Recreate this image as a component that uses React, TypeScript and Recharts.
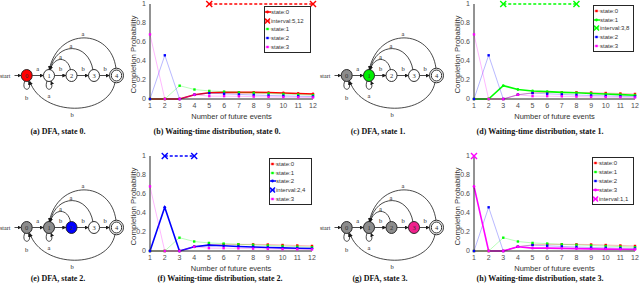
import React from 'react';
import { LineChart, Line, XAxis, YAxis } from 'recharts';

// ---------- data ----------
const steps = [1, 2, 3, 4, 5, 6, 7, 8, 9, 10, 11, 12];
const state0 = [0, 0, 0, 0.045, 0.065, 0.07, 0.07, 0.07, 0.068, 0.063, 0.058, 0.053];
const state1 = [0, 0, 0.14, 0.1, 0.085, 0.078, 0.07, 0.065, 0.058, 0.052, 0.046, 0.04];
const state2 = [0, 0.46, 0, 0.045, 0.062, 0.055, 0.048, 0.042, 0.037, 0.033, 0.029, 0.026];
const state3 = [0.68, 0, 0, 0.045, 0.03, 0.03, 0.028, 0.025, 0.022, 0.02, 0.018, 0.016];
const stateNames = ['state:0', 'state:1', 'state:2', 'state:3'];
const intervalStart = [5, 3, 2, 1];
const intervalEnd = [12, 8, 4, 1];
const yTicks = [0, 0.2, 0.4, 0.6, 0.8, 1];
const xTicks = steps;
const dfaCaptions = ['(a) DFA, state 0.', '(c) DFA, state 1.', '(e) DFA, state 2.', '(g) DFA, state 3.'];
const wtCaptions = [
  '(b) Waiting-time distribution, state 0.',
  '(d) Waiting-time distribution, state 1.',
  '(f) Waiting-time distribution, state 2.',
  '(h) Waiting-time distribution, state 3.',
];
const nodeLabels = ['0', '1', '2', '3', '4'];

// ---------- styles ----------
const colors = ['#ff0000', '#00ff00', '#0000ff', '#ff00ff'];
const dfaHighlight = ['#ff0000', '#00ee00', '#0000ff', '#f0208c'];
const GRAY = '#8c8c8c';
const SANS = '"Liberation Sans", Arial, sans-serif';
const SERIF = '"Liberation Serif", "Times New Roman", serif';

const layouts = [
  { left: 118, top: 0, width: 200, height: 122, margin: { top: 4, right: 5, left: 0, bottom: 0 }, yW: 32,
    legend: { left: 264, top: 6, width: 47, height: 47 }, dx: 0, dy: 0, capY: 134, capA: 58, capB: 217 },
  { left: 440, top: 0, width: 200, height: 122, margin: { top: 4, right: 5, left: 0, bottom: 0 }, yW: 34,
    legend: { left: 593, top: 5, width: 41, height: 47 }, dx: 320, dy: 0, capY: 134, capA: 378, capB: 540 },
  { left: 118, top: 152, width: 198, height: 122, margin: { top: 4, right: 4, left: 0, bottom: 0 }, yW: 32,
    legend: { left: 269, top: 158, width: 43, height: 47 }, dx: 0, dy: 152, capY: 281, capA: 58, capB: 220 },
  { left: 440, top: 152, width: 200, height: 122, margin: { top: 4, right: 5, left: 0, bottom: 0 }, yW: 34,
    legend: { left: 592, top: 157, width: 42, height: 48 }, dx: 320, dy: 152, capY: 281, capA: 380, capB: 540 },
];

function buildRows(k: number) {
  return steps.map((x, i) => ({
    x,
    s0: state0[i],
    s1: state1[i],
    s2: state2[i],
    s3: state3[i],
    iv: x >= intervalStart[k] && x <= intervalEnd[k] ? 1 : null,
  }));
}

const squareDot = (color: string, tag: string) => (p: any) => {
  if (p.cx == null || p.cy == null || p.value == null) return <g key={`${tag}${p.index}`} />;
  return <rect key={`${tag}${p.index}`} x={p.cx - 1.2} y={p.cy - 1.2} width={2.4} height={2.4} fill={color} />;
};
const roundDot = (color: string, tag: string) => (p: any) => {
  if (p.cx == null || p.cy == null || p.value == null) return <g key={`${tag}${p.index}`} />;
  return <circle key={`${tag}${p.index}`} cx={p.cx} cy={p.cy} r={1.4} fill={color} />;
};
const crossDot = (color: string, a: number, b: number, tag: string) => (p: any) => {
  const xv = p.payload ? p.payload.x : null;
  if (p.cx == null || p.cy == null || p.value == null || (xv !== a && xv !== b)) return <g key={`${tag}${p.index}`} />;
  const s = 3;
  return (
    <g key={`${tag}${p.index}`}>
      <line x1={p.cx - s} y1={p.cy - s} x2={p.cx + s} y2={p.cy + s} stroke={color} strokeWidth={1.4} />
      <line x1={p.cx - s} y1={p.cy + s} x2={p.cx + s} y2={p.cy - s} stroke={color} strokeWidth={1.4} />
    </g>
  );
};

function LegendBox({ k }: { k: number }) {
  const L = layouts[k].legend;
  const entries: { label: string; kind: string; color: string }[] = [];
  for (let j = 0; j < 4; j++) {
    entries.push({ label: stateNames[j], kind: j === k ? 'hi' : 'fade', color: colors[j] });
    if (j === k) entries.push({ label: `interval:${intervalStart[k]},${intervalEnd[k]}`, kind: 'iv', color: colors[j] });
  }
  return (
    <div style={{ position: 'absolute', left: L.left, top: L.top, width: L.width, height: L.height, border: '1.5px solid #262626',
      boxSizing: 'border-box', background: '#fff', fontFamily: SANS, fontSize: 6, color: '#333', display: 'flex',
      flexDirection: 'column', justifyContent: 'space-evenly' }}>
      {entries.map((e, i) => (
        <div key={i} style={{ display: 'flex', alignItems: 'center', height: 8, lineHeight: '8px', whiteSpace: 'nowrap' }}>
          <svg width={6} height={8} style={{ display: 'block', flex: 'none' }}>
            {e.kind === 'fade' && (
              <g>
                <line x1={0} y1={4} x2={6} y2={4} stroke={e.color} strokeOpacity={0.3} strokeWidth={1} />
                <rect x={1.3} y={2.8} width={2.4} height={2.4} fill={e.color} />
              </g>
            )}
            {e.kind === 'hi' && (
              <g>
                <line x1={0} y1={4} x2={6} y2={4} stroke={e.color} strokeWidth={1.5} />
                <circle cx={2.5} cy={4} r={1.4} fill={e.color} />
              </g>
            )}
            {e.kind === 'iv' && (
              <g>
                <line x1={0} y1={4} x2={6} y2={4} stroke={e.color} strokeWidth={1.2} strokeDasharray="2 1" />
                <line x1={0} y1={1.5} x2={5} y2={6.5} stroke={e.color} strokeWidth={1.4} />
                <line x1={0} y1={6.5} x2={5} y2={1.5} stroke={e.color} strokeWidth={1.4} />
              </g>
            )}
          </svg>
          <span>{e.label}</span>
        </div>
      ))}
    </div>
  );
}

function WaitChart({ k }: { k: number }) {
  const L = layouts[k];
  const rows = buildRows(k);
  const lines: React.ReactNode[] = [];
  for (let j = 0; j < 4; j++) {
    const key = `s${j}`;
    if (j === k) {
      lines.push(
        <Line key={key} dataKey={key} type="linear" stroke={colors[j]} strokeWidth={1.6} isAnimationActive={false}
          dot={roundDot(colors[j], `h${j}`)} activeDot={false} />
      );
      lines.push(
        <Line key="iv" dataKey="iv" type="linear" stroke={colors[j]} strokeWidth={1.3} strokeDasharray="3 2"
          isAnimationActive={false} dot={crossDot(colors[j], intervalStart[k], intervalEnd[k], 'x')} activeDot={false} />
      );
    } else {
      lines.push(
        <Line key={key} dataKey={key} type="linear" stroke={colors[j]} strokeOpacity={0.28} strokeWidth={1}
          isAnimationActive={false} dot={squareDot(colors[j], `f${j}`)} activeDot={false} />
      );
    }
  }
  const plotLeft = L.left + L.yW;
  const plotRight = L.left + L.width - L.margin.right;
  const plotTop = L.top + L.margin.top;
  const plotBottom = L.top + L.height - 23;
  return (
    <>
      <div style={{ position: 'absolute', left: L.left, top: L.top }}>
        <LineChart width={L.width} height={L.height} data={rows} margin={L.margin}>
          <XAxis dataKey="x" type="number" domain={[1, 12]} ticks={xTicks} interval={0} height={23} tickLine={false}
            tickSize={3} tickMargin={1} axisLine={{ stroke: '#262626', strokeWidth: 1 }}
            tick={{ fontSize: 7, fill: '#4d4d4d', fontFamily: SANS }} />
          <YAxis type="number" domain={[0, 1]} ticks={yTicks} width={L.yW} tickLine={false} tickSize={2} tickMargin={2}
            axisLine={{ stroke: '#262626', strokeWidth: 1 }} tick={{ fontSize: 7, fill: '#4d4d4d', fontFamily: SANS }} />
          {lines}
        </LineChart>
      </div>
      <div style={{ position: 'absolute', left: (plotLeft + plotRight) / 2 - 60, top: plotBottom + 13, width: 120,
        textAlign: 'center', fontFamily: SANS, fontSize: 7.5, color: '#333', lineHeight: '9px' }}>
        Number of future events
      </div>
      <div style={{ position: 'absolute', left: plotLeft - 17 - 60, top: (plotTop + plotBottom) / 2 + 3 - 4.5, width: 120,
        textAlign: 'center', fontFamily: SANS, fontSize: 7.8, color: '#333', lineHeight: '9px', transform: 'rotate(-90deg)' }}>
        Completion Probability
      </div>
      <LegendBox k={k} />
    </>
  );
}

const NX = [26.7, 49, 71.5, 94, 116.5];
const NY = 75.5;

function DFA({ k }: { k: number }) {
  const L = layouts[k];
  const mid = `arr${k}`;
  const fills = nodeLabels.map((_, i) => (i < k ? GRAY : i === k ? dfaHighlight[k] : '#fff'));
  const st = { stroke: '#1a1a1a', strokeWidth: 0.8, fill: 'none', markerEnd: `url(#${mid})` } as any;
  const lbl = { fontFamily: SERIF, fontSize: 6.5, fill: '#222', textAnchor: 'middle' } as any;
  return (
    <g transform={`translate(${L.dx},${L.dy})`}>
      <defs>
        <marker id={mid} markerUnits="userSpaceOnUse" markerWidth={4} markerHeight={4} refX={3.5} refY={2} orient="auto">
          <path d="M0,0 L4,2 L0,4 Z" fill="#1a1a1a" />
        </marker>
      </defs>
      <text x={0} y={77.5} style={{ fontFamily: SERIF, fontSize: 6, fill: '#222' }}>start</text>
      <line x1={14.5} y1={NY} x2={21} y2={NY} {...st} />
      {/* straight edges */}
      <line x1={32.2} y1={NY} x2={43.3} y2={NY} {...st} />
      <line x1={54.5} y1={NY} x2={65.8} y2={NY} {...st} />
      <line x1={77} y1={NY} x2={88.3} y2={NY} {...st} />
      <line x1={99.5} y1={NY} x2={109.3} y2={NY} {...st} />
      <text x={37.7} y={70.5} {...lbl}>a</text>
      <text x={60.5} y={70.5} {...lbl}>b</text>
      <text x={83} y={70.5} {...lbl}>b</text>
      <text x={105} y={70.5} {...lbl}>b</text>
      {/* back arcs to node 1 */}
      <path d="M 70.5 70 C 68 56, 54 56, 50.3 69.6" {...st} />
      <path d="M 93 70 C 88 42, 57 41, 49.8 69.6" {...st} />
      <path d="M 116 68.5 C 111 28, 58 27, 49.3 69.6" {...st} />
      <text x={60.5} y={59} {...lbl}>a</text>
      <text x={71} y={47.5} {...lbl}>a</text>
      <text x={83} y={36} {...lbl}>a</text>
      {/* bottom arc 4 -> 0 */}
      <path d="M 115 82.5 C 108 117, 42 117, 29.8 81.4" {...st} />
      <text x={72} y={116.5} {...lbl}>b</text>
      {/* self loops */}
      <path d="M 24.8 81 C 20.5 92, 33 92, 28.7 81.3" {...st} />
      <text x={26.5} y={99.5} {...lbl}>b</text>
      <path d="M 47.1 81 C 42.8 92, 55.3 92, 51 81.3" {...st} />
      <text x={49} y={97.5} {...lbl}>a</text>
      {/* nodes */}
      {nodeLabels.map((t, i) => (
        <g key={i}>
          {i === 4 && <ellipse cx={NX[i]} cy={NY} rx={7} ry={7.3} fill="#fff" stroke="#1a1a1a" strokeWidth={0.9} />}
          <ellipse cx={NX[i]} cy={NY} rx={i === 4 ? 5.2 : 5.5} ry={i === 4 ? 5.5 : 6} fill={fills[i]} stroke="#1a1a1a" strokeWidth={0.9} />
          <text x={NX[i]} y={NY + 2.2} style={{ fontFamily: SERIF, fontSize: 6.5, fill: '#333', textAnchor: 'middle' }}>{t}</text>
        </g>
      ))}
    </g>
  );
}

export default function App() {
  return (
    <div style={{ position: 'fixed', left: 0, top: 0, width: 640, height: 287, background: '#fff', overflow: 'hidden' }}>
      <svg width={640} height={287} style={{ position: 'absolute', left: 0, top: 0 }}>
        {[0, 1, 2, 3].map((k) => <DFA key={k} k={k} />)}
        {[0, 1, 2, 3].map((k) => (
          <g key={`c${k}`} style={{ fontFamily: SERIF, fontSize: 8, fontWeight: 'bold' }}>
            <text x={layouts[k].capA} y={layouts[k].capY} textAnchor="middle" fill="#111">{dfaCaptions[k]}</text>
            <text x={layouts[k].capB} y={layouts[k].capY} textAnchor="middle" fill="#111">{wtCaptions[k]}</text>
          </g>
        ))}
      </svg>
      {[0, 1, 2, 3].map((k) => <WaitChart key={k} k={k} />)}
    </div>
  );
}
